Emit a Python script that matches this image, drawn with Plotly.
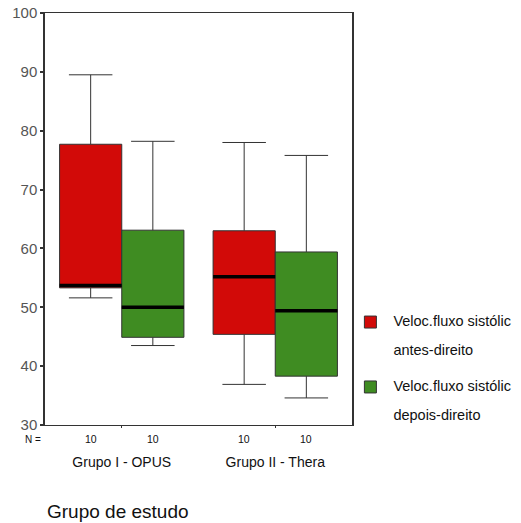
import plotly.graph_objects as go

# ---- data ----
categories = ["Grupo I - OPUS", "Grupo II - Thera"]
series_line1 = ["Veloc.fluxo sistólic", "Veloc.fluxo sistólic"]
series_line2 = ["antes-direito", "depois-direito"]
n_counts = [[10, 10], [10, 10]]  # per series, per category

antes_lower = [51.6, 36.9]
antes_q1 = [53.3, 45.4]
antes_median = [53.7, 55.2]
antes_q3 = [77.7, 63.0]
antes_upper = [89.5, 78.0]

depois_lower = [43.5, 34.6]
depois_q1 = [44.9, 38.3]
depois_median = [50.0, 49.4]
depois_q3 = [63.1, 59.4]
depois_upper = [78.2, 75.8]

y_ticks = [30, 40, 50, 60, 70, 80, 90, 100]

colors = ["#D20A08", "#3F8C22"]
font_family = "Liberation Sans, Arial, sans-serif"

series = [
    (antes_lower, antes_q1, antes_median, antes_q3, antes_upper),
    (depois_lower, depois_q1, depois_median, depois_q3, depois_upper),
]

def legend_label(a, b):
    sp = "<span style='font-size:14.5px'>%s</span>"
    return (sp % a) + "<br> <br>" + (sp % b)

fig = go.Figure()
for k, (lo, q1, med, q3, up) in enumerate(series):
    fig.add_trace(go.Box(
        x=categories, q1=q1, median=med, q3=q3,
        lowerfence=lo, upperfence=up,
        name=legend_label(series_line1[k], series_line2[k]),
        offsetgroup=str(k), legendgroup=str(k),
        fillcolor=colors[k],
        line=dict(color="#333333", width=1),
        whiskerwidth=0.7,
        boxpoints=False,
        hoverinfo="skip",
    ))
# thick black median lines drawn over each box
for k, (lo, q1, med, q3, up) in enumerate(series):
    fig.add_trace(go.Box(
        x=categories, q1=med, median=med, q3=med,
        lowerfence=med, upperfence=med,
        offsetgroup=str(k), legendgroup=str(k), showlegend=False,
        fillcolor="rgba(0,0,0,0)",
        line=dict(color="#000000", width=3.5),
        whiskerwidth=0,
        boxpoints=False,
        hoverinfo="skip",
    ))

boxgap = 0.19
offset = (1 - boxgap) / 4
annotations = []
for k in range(2):
    for i, cat in enumerate(categories):
        annotations.append(dict(
            x=i + (-offset if k == 0 else offset), xref="x",
            y=-0.035, yref="paper", text=str(n_counts[k][i]),
            showarrow=False, font=dict(size=10.5, color="#111111", family=font_family),
            xanchor="center", yanchor="middle"))
annotations.append(dict(x=-0.005, xref="paper", y=-0.036, yref="paper", text="N =",
                        showarrow=False, xanchor="right", yanchor="middle",
                        font=dict(size=10, color="#111111", family=font_family)))
annotations.append(dict(x=0.0, xref="paper", y=-0.211, yref="paper", text="Grupo de estudo",
                        showarrow=False, xanchor="left", yanchor="middle",
                        font=dict(size=19, color="#111111", family=font_family)))

fig.update_layout(
    width=513, height=515,
    margin=dict(l=37, r=169, t=5, b=98, autoexpand=False),
    paper_bgcolor="white", plot_bgcolor="white",
    boxmode="group", boxgap=boxgap, boxgroupgap=0,
    font=dict(family=font_family, color="#111111"),
    showlegend=True,
    legend=dict(x=0.985, y=0.283, xanchor="left", yanchor="top",
                font=dict(size=11, color="#111111", family=font_family),
                bgcolor="rgba(0,0,0,0)", traceorder="grouped", tracegroupgap=19,
                itemwidth=36, valign="top"),
    annotations=annotations,
)
fig.update_xaxes(
    type="category", showline=True, linecolor="#333333", linewidth=1, mirror=True,
    ticks="outside", ticklen=2, tickcolor="#333333", showgrid=False,
    tickfont=dict(size=14, color="#111111", family=font_family),
    ticklabelstandoff=22, automargin=False,
)
fig.update_yaxes(
    range=[30, 100], tickvals=y_ticks, showline=True, linecolor="#333333", linewidth=1.5,
    mirror=True, ticks="outside", ticklen=3, tickwidth=2, tickcolor="#333333",
    showgrid=False, zeroline=False, automargin=False, ticklabeloverflow="allow",
    tickfont=dict(size=15, color="#555555", family=font_family),
)

fig.write_html("out.html")
